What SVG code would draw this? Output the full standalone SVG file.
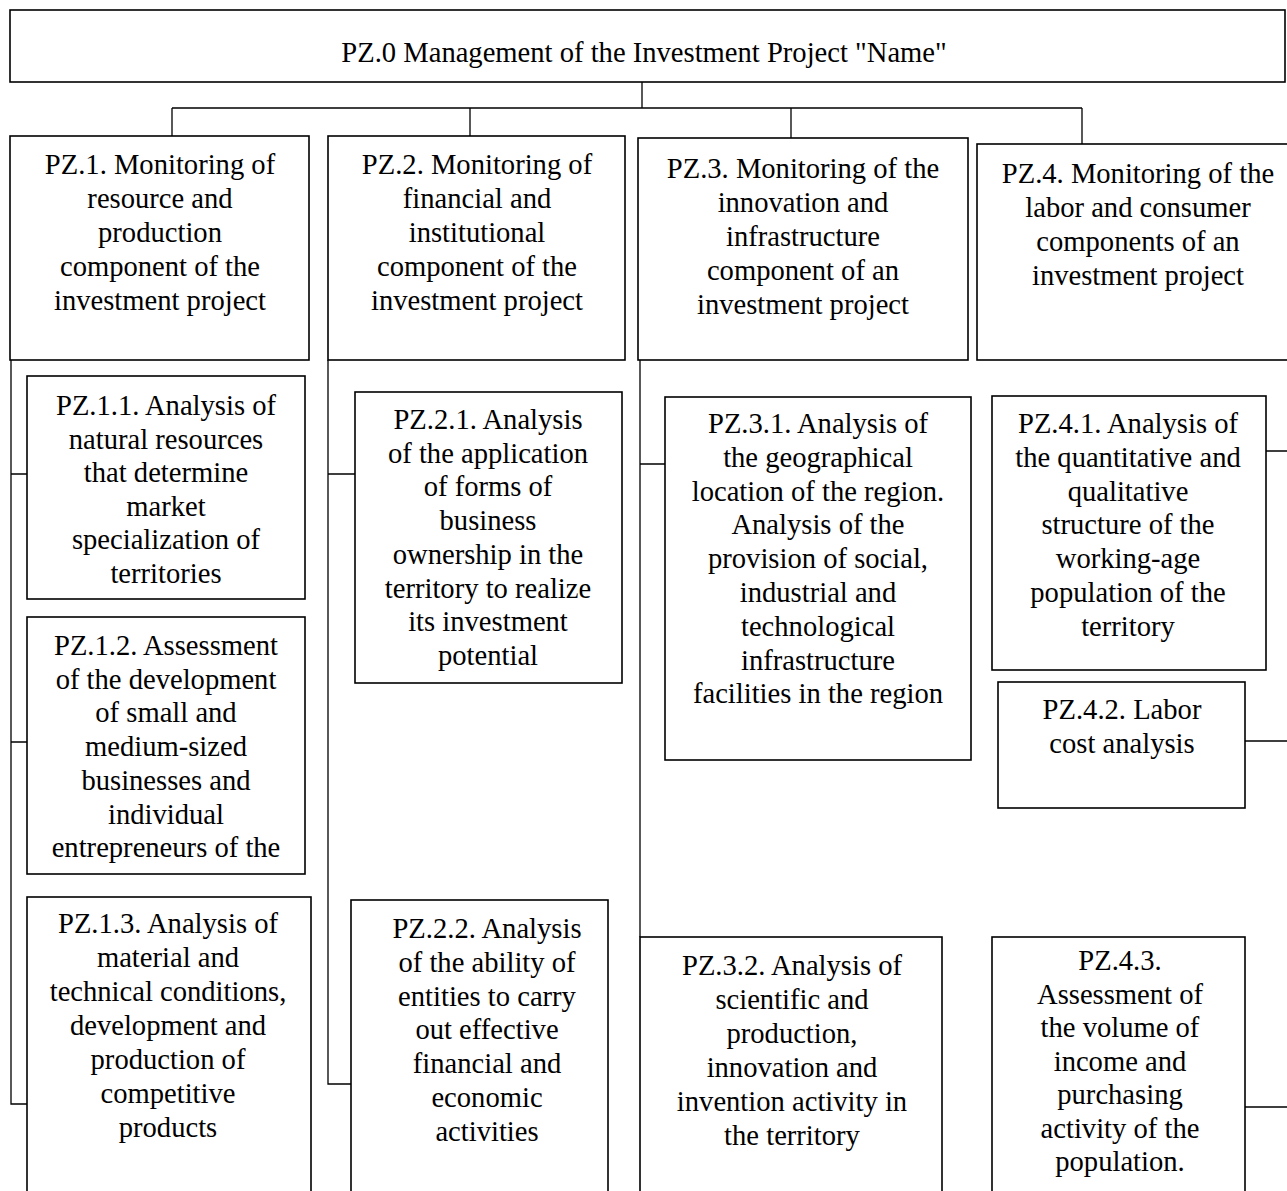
<svg xmlns="http://www.w3.org/2000/svg" width="1287" height="1191" viewBox="0 0 1287 1191">
<style>
.box{fill:#fff;stroke:#000;stroke-width:1.6}
.c{fill:none;stroke:#000;stroke-width:1.3}
.t{font-family:'Liberation Serif','Times New Roman','DejaVu Serif',serif;font-size:28.6px;fill:#000;text-anchor:middle}
</style>
<rect width="1287" height="1191" fill="#fff"/>
<g id="connectors">
<path class="c" d="M642 82V108M172 108H1082M172 108V136M470 108V136M791 108V138M1082 108V144"/>
<path class="c" d="M11 360V1104H27M11 474H27M11 742H27"/>
<path class="c" d="M328 360V1084H351M328 474H355"/>
<path class="c" d="M640 360V937M640 464H665"/>
<path class="c" d="M1266 451H1290M1245 741H1290M1245 1107H1290"/>
</g>
<g font-family="Liberation Serif, Times New Roman, serif">
<g id="pz0"><rect class="box" x="10" y="10" width="1275" height="72"/>
<text class="t" x="644" y="62">PZ.0 Management of the Investment Project "Name"</text></g>
<g id="pz1"><rect class="box" x="10" y="136" width="299" height="224"/>
<text class="t"><tspan x="160" y="174">PZ.1. Monitoring of</tspan><tspan x="160" y="208">resource and</tspan><tspan x="160" y="242">production</tspan><tspan x="160" y="276">component of the</tspan><tspan x="160" y="310">investment project</tspan></text></g>
<g id="pz2"><rect class="box" x="328" y="136" width="297" height="224"/>
<text class="t"><tspan x="477" y="174">PZ.2. Monitoring of</tspan><tspan x="477" y="208">financial and</tspan><tspan x="477" y="242">institutional</tspan><tspan x="477" y="276">component of the</tspan><tspan x="477" y="310">investment project</tspan></text></g>
<g id="pz3"><rect class="box" x="638" y="138" width="330" height="222"/>
<text class="t"><tspan x="803" y="178">PZ.3. Monitoring of the</tspan><tspan x="803" y="212">innovation and</tspan><tspan x="803" y="246">infrastructure</tspan><tspan x="803" y="280">component of an</tspan><tspan x="803" y="314">investment project</tspan></text></g>
<g id="pz4"><rect class="box" x="977" y="144" width="330" height="216"/>
<text class="t"><tspan x="1138" y="183">PZ.4. Monitoring of the</tspan><tspan x="1138" y="217">labor and consumer</tspan><tspan x="1138" y="251">components of an</tspan><tspan x="1138" y="285">investment project</tspan></text></g>
<g id="pz1-1"><rect class="box" x="27" y="376" width="278" height="223"/>
<text class="t"><tspan x="166" y="415">PZ.1.1. Analysis of</tspan><tspan x="166" y="448.5">natural resources</tspan><tspan x="166" y="482">that determine</tspan><tspan x="166" y="515.5">market</tspan><tspan x="166" y="549">specialization of</tspan><tspan x="166" y="582.5">territories</tspan></text></g>
<g id="pz1-2"><rect class="box" x="27" y="617" width="278" height="257"/>
<text class="t"><tspan x="166" y="655">PZ.1.2. Assessment</tspan><tspan x="166" y="688.7">of the development</tspan><tspan x="166" y="722.4">of small and</tspan><tspan x="166" y="756">medium-sized</tspan><tspan x="166" y="789.8">businesses and</tspan><tspan x="166" y="823.5">individual</tspan><tspan x="166" y="857">entrepreneurs of the</tspan></text></g>
<g id="pz1-3"><rect class="box" x="27" y="897" width="284" height="310"/>
<text class="t"><tspan x="168" y="933">PZ.1.3. Analysis of</tspan><tspan x="168" y="967">material and</tspan><tspan x="168" y="1001">technical conditions,</tspan><tspan x="168" y="1035">development and</tspan><tspan x="168" y="1069">production of</tspan><tspan x="168" y="1103">competitive</tspan><tspan x="168" y="1137">products</tspan></text></g>
<g id="pz2-1"><rect class="box" x="355" y="392" width="267" height="291"/>
<text class="t"><tspan x="488" y="429">PZ.2.1. Analysis</tspan><tspan x="488" y="462.7">of the application</tspan><tspan x="488" y="496.4">of forms of</tspan><tspan x="488" y="530">business</tspan><tspan x="488" y="563.8">ownership in the</tspan><tspan x="488" y="597.5">territory to realize</tspan><tspan x="488" y="631.2">its investment</tspan><tspan x="488" y="665">potential</tspan></text></g>
<g id="pz2-2"><rect class="box" x="351" y="900" width="257" height="310"/>
<text class="t"><tspan x="487" y="938">PZ.2.2. Analysis</tspan><tspan x="487" y="971.8">of the ability of</tspan><tspan x="487" y="1005.6">entities to carry</tspan><tspan x="487" y="1039.4">out effective</tspan><tspan x="487" y="1073.2">financial and</tspan><tspan x="487" y="1107">economic</tspan><tspan x="487" y="1140.8">activities</tspan></text></g>
<g id="pz3-1"><rect class="box" x="665" y="397" width="306" height="363"/>
<text class="t"><tspan x="818" y="433">PZ.3.1. Analysis of</tspan><tspan x="818" y="466.8">the geographical</tspan><tspan x="818" y="500.6">location of the region.</tspan><tspan x="818" y="534.4">Analysis of the</tspan><tspan x="818" y="568.2">provision of social,</tspan><tspan x="818" y="602">industrial and</tspan><tspan x="818" y="635.8">technological</tspan><tspan x="818" y="669.6">infrastructure</tspan><tspan x="818" y="703.4">facilities in the region</tspan></text></g>
<g id="pz3-2"><rect class="box" x="640" y="937" width="302" height="270"/>
<text class="t"><tspan x="792" y="975">PZ.3.2. Analysis of</tspan><tspan x="792" y="1009">scientific and</tspan><tspan x="792" y="1043">production,</tspan><tspan x="792" y="1077">innovation and</tspan><tspan x="792" y="1111">invention activity in</tspan><tspan x="792" y="1145">the territory</tspan></text></g>
<g id="pz4-1"><rect class="box" x="992" y="396" width="274" height="274"/>
<text class="t"><tspan x="1128" y="433">PZ.4.1. Analysis of</tspan><tspan x="1128" y="466.8">the quantitative and</tspan><tspan x="1128" y="500.6">qualitative</tspan><tspan x="1128" y="534.4">structure of the</tspan><tspan x="1128" y="568.2">working-age</tspan><tspan x="1128" y="602">population of the</tspan><tspan x="1128" y="635.8">territory</tspan></text></g>
<g id="pz4-2"><rect class="box" x="998" y="682" width="247" height="126"/>
<text class="t"><tspan x="1122" y="719">PZ.4.2. Labor</tspan><tspan x="1122" y="753">cost analysis</tspan></text></g>
<g id="pz4-3"><rect class="box" x="992" y="937" width="253" height="270"/>
<text class="t"><tspan x="1120" y="970">PZ.4.3.</tspan><tspan x="1120" y="1003.5">Assessment of</tspan><tspan x="1120" y="1037">the volume of</tspan><tspan x="1120" y="1070.5">income and</tspan><tspan x="1120" y="1104">purchasing</tspan><tspan x="1120" y="1137.5">activity of the</tspan><tspan x="1120" y="1171">population.</tspan></text></g>
</g>
</svg>
